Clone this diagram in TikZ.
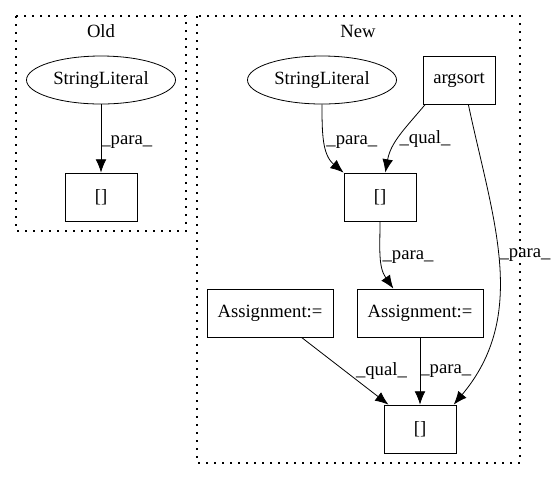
\documentclass[tikz,border=0pt]{standalone}
\usepackage{fontspec}
\setmainfont{Liberation Serif}
\usetikzlibrary{arrows.meta,shapes.geometric}
\tikzset{%
  >={Latex[width=8pt,length=10pt]},
  % Specifications for style of nodes:
        base/.style = {rectangle, draw=black, line width=0.6pt,
                       minimum width=54pt, minimum height=36pt,
                       text centered, font=\fontsize{14}{16}\selectfont},
     literal/.style = {base, ellipse, minimum width=111.75pt},
      assign/.style = {base, minimum width=94.5pt},
  % edges, their labels and the two clusters
        edge/.style = {->, line width=0.6pt},
         lbl/.style = {font=\fontsize{14}{16}\selectfont, anchor=west,
                       inner sep=1pt},
       title/.style = {font=\fontsize{14}{16}\selectfont},
     cluster/.style = {draw=black, line width=0.9pt,
                       dash pattern=on 1.2pt off 4.8pt},
}

\begin{document}
\begin{tikzpicture}[x=0.75pt, y=-0.75pt]
\useasboundingbox (0,0) rectangle (555,480);

% clusters
\draw[cluster] (16,16) rectangle (186,231);
\draw[cluster] (197,16) rectangle (520,463);
\node (Old) [title] at (101,31) {Old};
\node (New) [title] at (358,31) {New};

% old
\node (SLo)    [literal]  at (101,80)    {StringLiteral};
\node (IXo)    [base]     at (101,197)   {[]};

% new
\node (SLn)    [literal]  at (322,80)    {StringLiteral};
\node (AS)     [base]     at (459,80)    {argsort};
\node (IXn)    [base]     at (380,197)   {[]};
\node (AL)     [assign]   at (270,313)   {Assignment:=};
\node (AR)     [assign]   at (420,313)   {Assignment:=};
\node (IXb)    [base]     at (420,429)   {[]};

\draw[edge]   (SLo) -- node[lbl, pos=0.55, inner sep=0pt] {\_para\_} (IXo);
\draw[edge]   (SLn.south) to[out=-90, in=140]
              node[lbl, pos=0.5] {\_para\_} (IXn.north west);
\draw[edge]   ([xshift=2pt]AS.south west) to[out=-130, in=80]
              node[lbl, pos=0.55] {\_qual\_} ([xshift=4pt]IXn.north);
\draw[edge]   (IXn.south) to[out=-90, in=125]
              node[lbl, pos=0.5] {\_para\_} ([xshift=-20pt]AR.north);
\draw[edge]   ([xshift=7pt]AS.south) to[out=-78, in=50]
              node[lbl, pos=0.47] {\_para\_} ([xshift=-2pt]IXb.north east);
\draw[edge]   (AL) -- node[lbl, pos=0.5, xshift=7pt] {\_qual\_} (IXb);
\draw[edge]   (AR) -- node[lbl, pos=0.5, inner sep=0pt] {\_para\_} (IXb);
\end{tikzpicture}
\end{document}
